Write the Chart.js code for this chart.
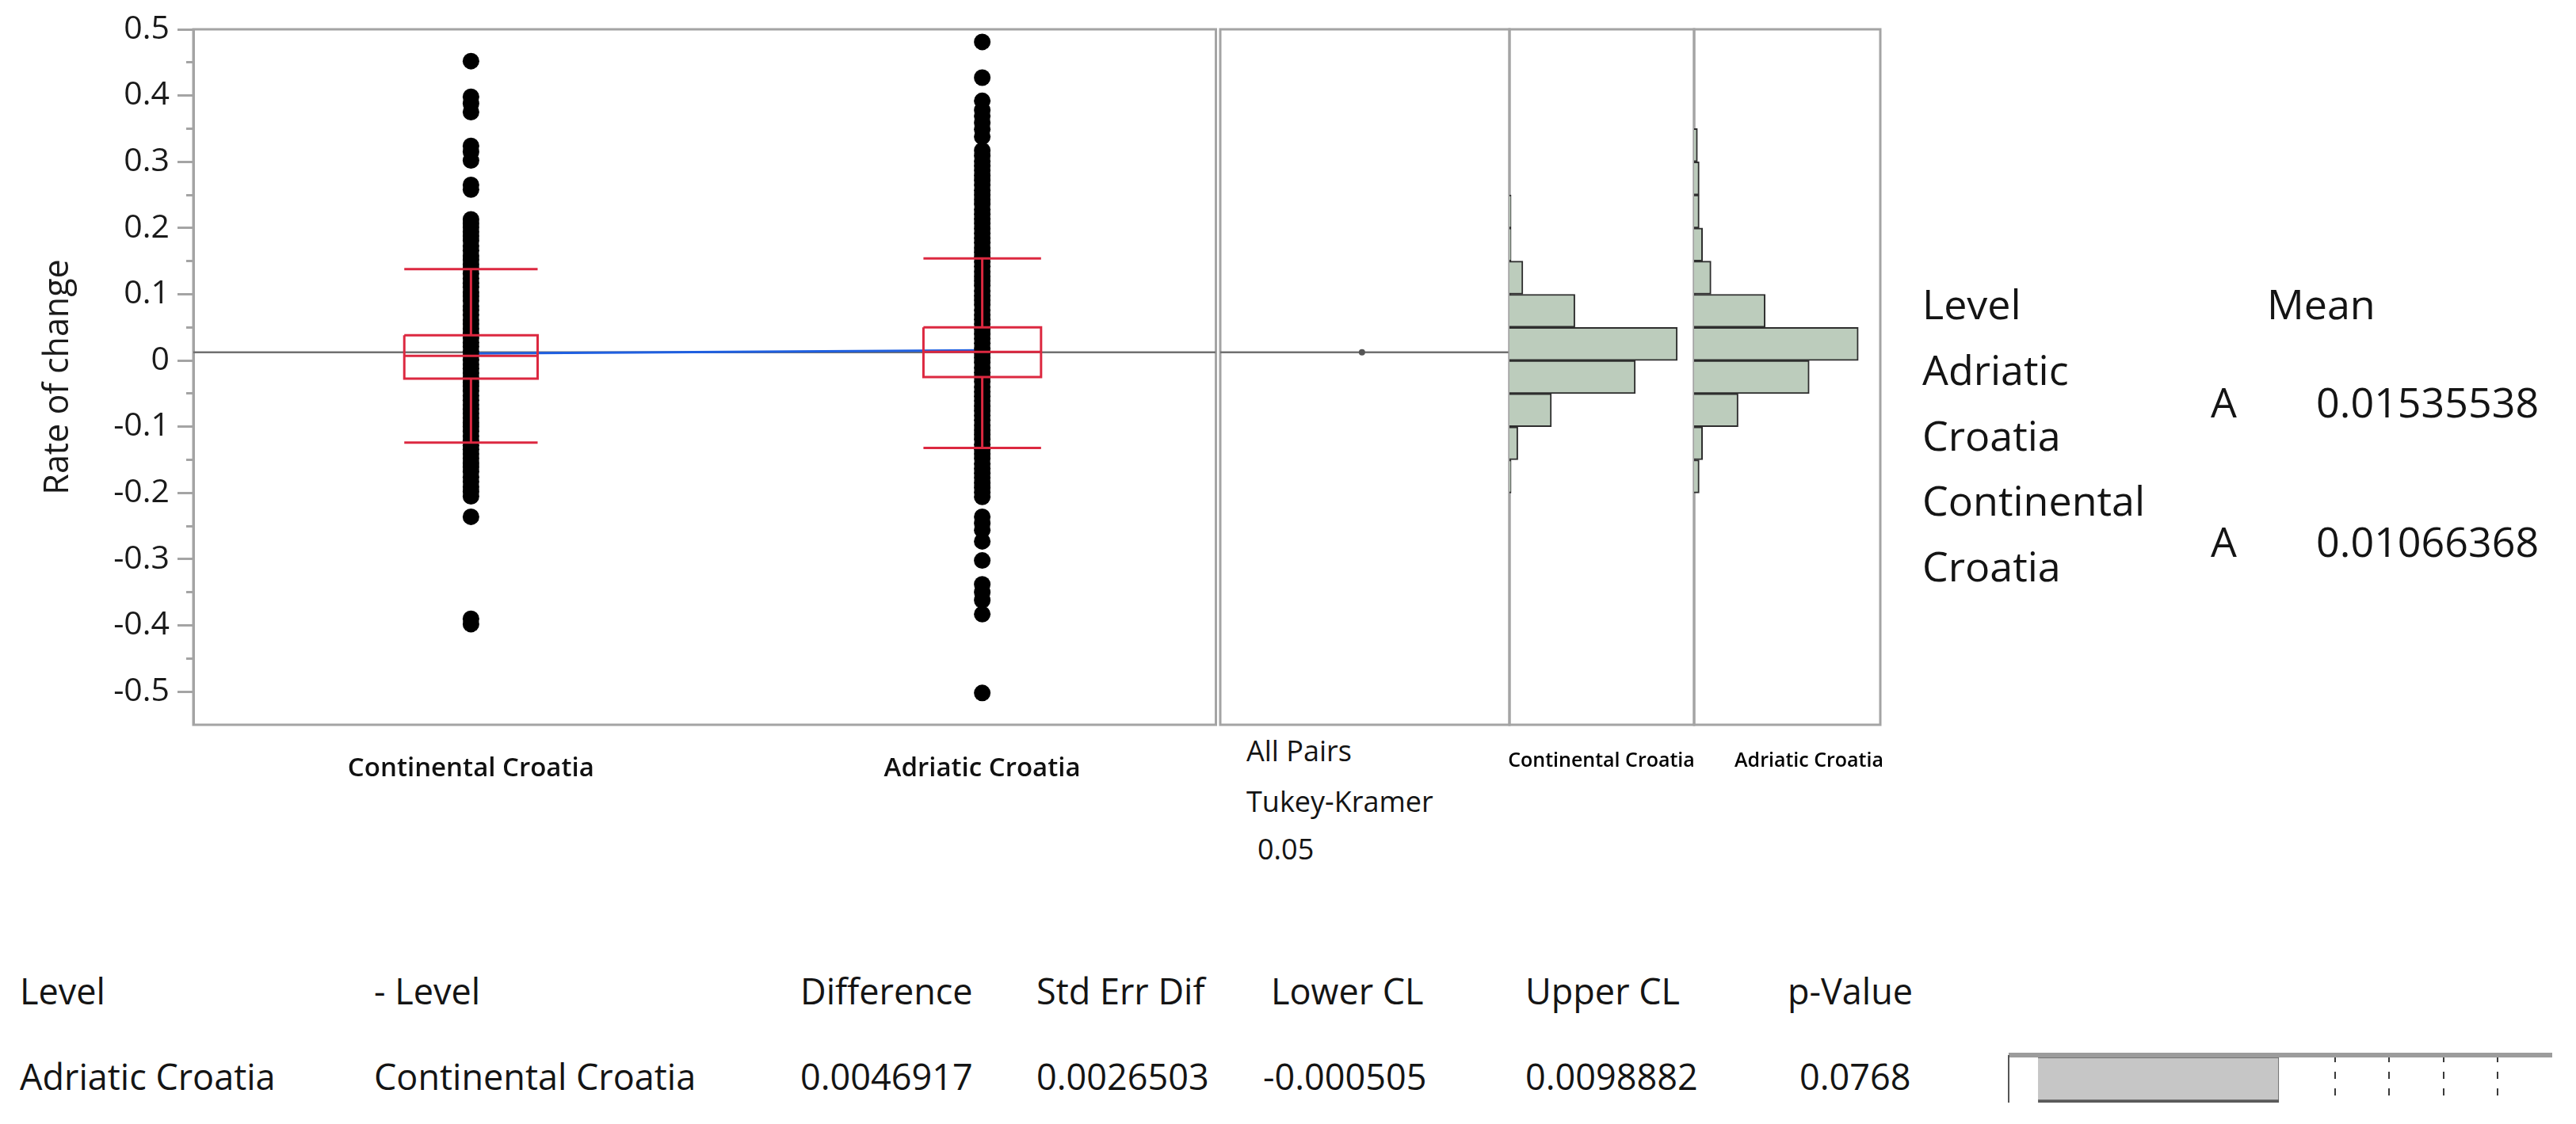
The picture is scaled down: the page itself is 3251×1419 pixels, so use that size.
<!DOCTYPE html>
<html>
<head>
<meta charset="utf-8">
<script src="https://cdn.jsdelivr.net/npm/chart.js@4.4.1/dist/chart.umd.min.js"></script>
<style>
  html, body { margin: 0; padding: 0; background: #fff; }
  #page { position: relative; width: 3251px; height: 1419px; overflow: hidden; font-family: "Open Sans", "Noto Sans", sans-serif; color: #141414; }
  canvas { position: absolute; }
  .t { position: absolute; white-space: pre; transform: translateY(-50%); line-height: 1; }
</style>
</head>
<body>
<div id="page">
  <canvas id="main" width="1545" height="1010" style="left:0;top:0;width:1545px;height:1010px"></canvas>
  <canvas id="pairs" width="373" height="886" style="left:1536px;top:33px;width:373px;height:886px"></canvas>
  <canvas id="histC" width="241" height="886" style="left:1901px;top:33px;width:241px;height:886px"></canvas>
  <canvas id="histA" width="243" height="886" style="left:2134px;top:33px;width:243px;height:886px"></canvas>
  <canvas id="pbar" width="694" height="68" style="left:2531px;top:1328px;width:694px;height:68px"></canvas>
</div>
<script>
// --- data ---
const categories = ['Continental Croatia', 'Adriatic Croatia'];

const continentalValues = [
  0.452, 0.398, 0.388, 0.375, 0.324, 0.315, 0.302, 0.265, 0.258,
  0.213, 0.207, 0.201, 0.194, 0.188, 0.181, 0.173, 0.166, 0.158, 0.152,
  0.145, 0.139, 0.131, 0.124, 0.117, 0.111, 0.103, 0.097, 0.09, 0.082,
  0.076, 0.069, 0.061, 0.055, 0.048, 0.041, 0.034, 0.027, 0.021, 0.014,
  0.008, 0.001, -0.006, -0.012, -0.019, -0.026, -0.033, -0.039, -0.046,
  -0.053, -0.06, -0.067, -0.073, -0.08, -0.087, -0.094, -0.1, -0.107,
  -0.114, -0.121, -0.128, -0.134, -0.141, -0.148, -0.155, -0.161, -0.168,
  -0.176, -0.183, -0.191, -0.198, -0.205, -0.236, -0.39, -0.398
];

const adriaticValues = [
  0.481, 0.427, 0.392, 0.378, 0.369, 0.359, 0.349, 0.338, 0.317, 0.309,
  0.301, 0.294, 0.287, 0.279, 0.272, 0.265, 0.257, 0.25, 0.243, 0.236,
  0.228, 0.221, 0.214, 0.207, 0.199, 0.192, 0.185, 0.178, 0.17, 0.163,
  0.156, 0.149, 0.142, 0.134, 0.127, 0.12, 0.113, 0.105, 0.098, 0.091,
  0.084, 0.076, 0.069, 0.062, 0.055, 0.047, 0.04, 0.033, 0.026, 0.018,
  0.011, 0.004, -0.003, -0.011, -0.018, -0.025, -0.032, -0.04, -0.047,
  -0.054, -0.061, -0.069, -0.076, -0.083, -0.09, -0.098, -0.105, -0.112,
  -0.119, -0.127, -0.134, -0.141, -0.148, -0.156, -0.163, -0.17, -0.177,
  -0.185, -0.192, -0.199, -0.206, -0.236, -0.246, -0.256, -0.273, -0.302,
  -0.338, -0.35, -0.362, -0.383, -0.502
];

// quantile boxes (Continental, Adriatic)
const whiskerHigh = [0.138, 0.154];
const quartile3 = [0.038, 0.05];
const medians = [0.007, 0.013];
const quartile1 = [-0.0275, -0.025];
const whiskerLow = [-0.124, -0.132];

const groupMeans = [0.01066368, 0.01535538];
const grandMean = 0.0125;

const yTickLabels = ['0.5', '0.4', '0.3', '0.2', '0.1', '0', '-0.1', '-0.2', '-0.3', '-0.4', '-0.5'];
const yTickValues = [0.5, 0.4, 0.3, 0.2, 0.1, 0, -0.1, -0.2, -0.3, -0.4, -0.5];
const yMinorValues = [0.45, 0.35, 0.25, 0.15, 0.05, -0.05, -0.15, -0.25, -0.35, -0.45];

// histogram bins, top to bottom (upper edge of each 0.05 bin)
const histBins = ['0.50', '0.45', '0.40', '0.35', '0.30', '0.25', '0.20', '0.15', '0.10', '0.05', '0.00',
  '-0.05', '-0.10', '-0.15', '-0.20', '-0.25', '-0.30', '-0.35', '-0.40', '-0.45', '-0.50'];
const continentalHist = [0, 0, 0, 0, 0, 1, 1, 8, 39, 100, 75, 25, 5, 1, 0, 0, 0, 0, 0, 0, 0];
const adriaticHist = [0, 0, 0, 2, 3, 3, 5, 10, 42, 97, 68, 26, 5, 3, 0, 0, 0, 0, 0, 0, 0];

const meanLevels = ['Adriatic\nCroatia', 'Continental\nCroatia'];
const meanLetters = ['A', 'A'];
const meanValues = ['0.01535538', '0.01066368'];

const diffHeaders = ['Level', '- Level', 'Difference', 'Std Err Dif', 'Lower CL', 'Upper CL', 'p-Value'];
const diffRow = ['Adriatic Croatia', 'Continental Croatia', '0.0046917', '0.0026503', '-0.000505', '0.0098882', '0.0768'];
const diffBar = [0.054, 0.497];

// --- shared styling ---
Chart.defaults.font.family = '"Open Sans", "Noto Sans", sans-serif';
Chart.defaults.color = '#141414';
Chart.defaults.animation = false;
Chart.defaults.plugins.legend.display = false;
Chart.defaults.plugins.tooltip.enabled = false;

const FRAME = '#a4a4a4';
const RED = '#dc2840';
const MEANLINE = '#707070';
const YMIN = -0.55, YMAX = 0.5;

const framePlugin = {
  id: 'frame',
  beforeDatasetsDraw(chart, args, opts) {
    const { ctx, chartArea: a } = chart;
    ctx.save();
    ctx.strokeStyle = opts.color || FRAME;
    ctx.lineWidth = opts.width || 3;
    ctx.strokeRect(a.left, a.top, a.right - a.left, a.bottom - a.top);
    ctx.restore();
  }
};

const hiddenY = { type: 'linear', display: false, min: YMIN, max: YMAX };

// --- main panel: points + quantile boxes ---
const boxHalf = [0.1304, 0.115];
const lineSet = (data, color, width, order) => ({
  type: 'line', data, borderColor: color, borderWidth: width,
  pointRadius: 0, fill: false, tension: 0, order
});

const mainSets = [];
mainSets.push(lineSet([{ x: -0.543, y: grandMean }, { x: 1.457, y: grandMean }], MEANLINE, 2.5, 5));
mainSets.push(lineSet(groupMeans.map((m, i) => ({ x: i, y: m })), '#1f5fe0', 3, 4));
[continentalValues, adriaticValues].forEach((vals, i) => {
  mainSets.push({
    type: 'scatter', data: vals.map(v => ({ x: i, y: v })),
    pointRadius: 10.5, pointBackgroundColor: '#000', pointBorderWidth: 0, order: 3
  });
});
categories.forEach((c, i) => {
  const l = i - boxHalf[i], r = i + boxHalf[i];
  const segs = [
    [{ x: l, y: quartile3[i] }, { x: r, y: quartile3[i] }, { x: r, y: quartile1[i] }, { x: l, y: quartile1[i] }, { x: l, y: quartile3[i] }],
    [{ x: l, y: medians[i] }, { x: r, y: medians[i] }],
    [{ x: i, y: quartile3[i] }, { x: i, y: whiskerHigh[i] }],
    [{ x: l, y: whiskerHigh[i] }, { x: r, y: whiskerHigh[i] }],
    [{ x: i, y: quartile1[i] }, { x: i, y: whiskerLow[i] }],
    [{ x: l, y: whiskerLow[i] }, { x: r, y: whiskerLow[i] }]
  ];
  segs.forEach(s => mainSets.push(lineSet(s, RED, 3, 1)));
});

new Chart(document.getElementById('main'), {
  type: 'scatter',
  data: { datasets: mainSets },
  plugins: [framePlugin],
  options: {
    responsive: false,
    layout: { padding: { left: 0, top: 37, right: 5, bottom: 0 } },
    scales: {
      x: {
        type: 'linear', min: -0.543, max: 1.457,
        afterBuildTicks: s => { s.ticks = categories.map((c, i) => ({ value: i })); },
        afterFit: s => { s.height = 95; },
        ticks: { callback: (v) => categories[Math.round(v)], padding: 36, font: { size: 33, weight: '600' }, color: '#111', maxRotation: 0 },
        grid: { display: false, drawTicks: false },
        border: { display: false }
      },
      y: {
        type: 'linear', min: YMIN, max: YMAX, weight: 1,
        afterBuildTicks: s => { s.ticks = yTickValues.map(v => ({ value: v })); },
        afterFit: s => { s.width = 244; },
        ticks: {
          padding: 10, font: { size: 41 }, color: '#1a1a1a',
          callback: (v) => yTickLabels[yTickValues.findIndex(t => Math.abs(t - v) < 1e-9)]
        },
        grid: { drawOnChartArea: false, tickLength: 20, tickWidth: 3, tickColor: FRAME },
        border: { display: true, color: FRAME, width: 3 },
        title: { display: true, text: 'Rate of change', font: { size: 43 }, color: '#1a1a1a', padding: { top: 48, bottom: 0 } }
      },
      yMinor: {
        type: 'linear', position: 'left', min: YMIN, max: YMAX, weight: 0,
        afterBuildTicks: s => { s.ticks = yMinorValues.map(v => ({ value: v })); },
        afterFit: s => { s.width = 0; },
        ticks: { display: false },
        grid: { drawOnChartArea: false, tickLength: 9, tickWidth: 3, tickColor: FRAME },
        border: { display: false }
      }
    },
    plugins: { frame: { color: FRAME, width: 3 } }
  }
});

// --- All Pairs Tukey-Kramer panel ---
new Chart(document.getElementById('pairs'), {
  type: 'scatter',
  data: {
    datasets: [
      { type: 'scatter', data: [{ x: 0.49, y: grandMean }], pointRadius: 4, pointBackgroundColor: '#555', pointBorderWidth: 0, order: 1 },
      lineSet([{ x: 0, y: grandMean }, { x: 1, y: grandMean }], MEANLINE, 2.5, 2)
    ]
  },
  plugins: [framePlugin],
  options: {
    responsive: false,
    layout: { padding: 4 },
    scales: { x: { type: 'linear', display: false, min: 0, max: 1 }, y: hiddenY },
    plugins: { frame: { color: FRAME, width: 3 } }
  }
});

// --- histograms ---
function histChart(id, counts) {
  return new Chart(document.getElementById(id), {
    type: 'bar',
    data: {
      labels: histBins,
      datasets: [{
        data: counts, backgroundColor: 'rgb(188, 204, 188)', borderColor: '#2e2e2e',
        borderWidth: 2, borderSkipped: 'left', barPercentage: 1, categoryPercentage: 1
      }]
    },
    plugins: [framePlugin],
    options: {
      indexAxis: 'y', responsive: false,
      layout: { padding: 4 },
      scales: {
        x: { type: 'linear', display: false, min: 0, max: 110 },
        y: { type: 'category', display: false }
      },
      plugins: { frame: { color: FRAME, width: 3 } }
    }
  });
}
histChart('histC', continentalHist);
histChart('histA', adriaticHist);

// --- difference bar in the table ---
const pbarFrame = {
  id: 'pbarFrame',
  afterDatasetsDraw(chart) {
    const { ctx, chartArea: a } = chart;
    ctx.save();
    ctx.strokeStyle = '#9c9c9c'; ctx.lineWidth = 6;
    ctx.beginPath(); ctx.moveTo(a.left, a.top); ctx.lineTo(a.right, a.top); ctx.stroke();
    ctx.strokeStyle = '#555'; ctx.lineWidth = 2;
    ctx.beginPath(); ctx.moveTo(a.left, a.top); ctx.lineTo(a.left, a.bottom); ctx.stroke();
    ctx.restore();
  }
};
new Chart(document.getElementById('pbar'), {
  type: 'bar',
  data: {
    labels: [''],
    datasets: [{
      data: [diffBar], backgroundColor: '#c6c6c6', borderColor: '#5a5a5a',
      borderWidth: { top: 4, bottom: 4, left: 0, right: 1 }, borderSkipped: false,
      barPercentage: 1, categoryPercentage: 1
    }]
  },
  plugins: [pbarFrame],
  options: {
    indexAxis: 'y', responsive: false,
    layout: { padding: 4 },
    scales: {
      x: {
        type: 'linear', min: 0, max: 1,
        afterFit: s => { s.height = 0; },
        ticks: { display: false, stepSize: 0.1 },
        grid: { drawTicks: false, lineWidth: 2, color: ctx => (ctx.tick.value > 0.55 && ctx.tick.value < 0.95) ? '#3a3a3a' : 'rgba(0,0,0,0)' },
        border: { display: false, dash: [9, 12] }
      },
      y: { display: false }
    }
  }
});

// --- text blocks ---
const page = document.getElementById('page');
function addText(str, left, cy, size, extra) {
  const d = document.createElement('div');
  d.className = 't';
  d.textContent = str;
  d.style.left = left + 'px';
  d.style.top = cy + 'px';
  d.style.fontSize = size + 'px';
  if (extra) Object.assign(d.style, extra);
  page.appendChild(d);
  return d;
}

addText('All Pairs', 1573, 948, 36);
addText('Tukey-Kramer', 1573, 1012, 36);
addText('0.05', 1587, 1072, 36);

const histLabelCenters = [2021, 2283];
categories.forEach((c, i) => {
  const d = addText(c, histLabelCenters[i], 958, 25, { fontWeight: '600', color: '#000' });
  d.style.transform = 'translate(-50%, -50%)';
});

addText('Level', 2426, 383, 52);
addText('Mean', 2861, 383, 52);
const levelY = [[466, 549], [631, 714]];
const rowY = [507, 683];
meanLevels.forEach((lv, i) => {
  const parts = lv.split('\n');
  addText(parts[0], 2426, levelY[i][0], 52);
  addText(parts[1], 2426, levelY[i][1], 52);
  addText(meanLetters[i], 2790, rowY[i], 52);
  addText(meanValues[i], 2923, rowY[i], 52);
});

const colX = [25, 472, 1010, 1308, 1604, 1925, 2256];
const rowX = [25, 472, 1010, 1308, 1594, 1925, 2271];
diffHeaders.forEach((h, i) => addText(h, colX[i], 1250, 45));
diffRow.forEach((v, i) => addText(v, rowX[i], 1358, 45));
</script>
</body>
</html>
